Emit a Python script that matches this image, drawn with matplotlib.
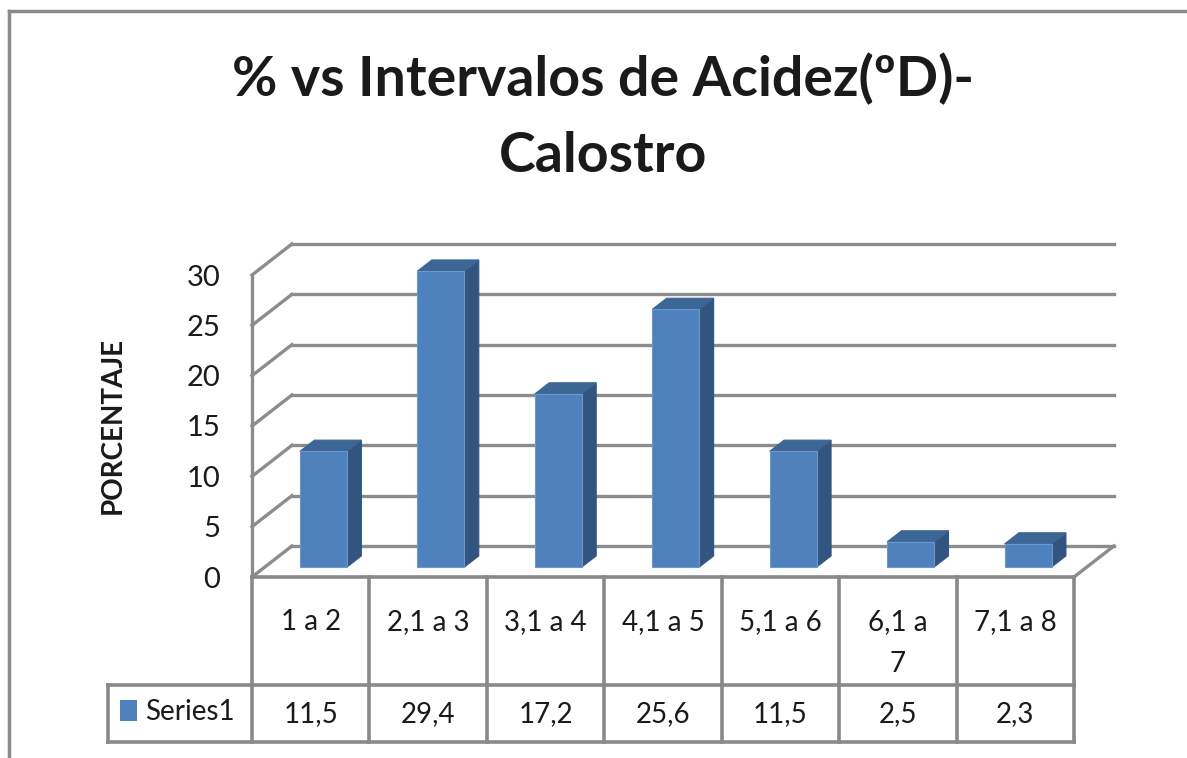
import matplotlib
matplotlib.use('Agg')
import matplotlib.pyplot as plt
import matplotlib.transforms as mtransforms
from matplotlib.patches import Polygon

plt.rcParams['font.family'] = ['Lato', 'DejaVu Sans']

categories = ['1 a 2', '2,1 a 3', '3,1 a 4', '4,1 a 5', '5,1 a 6', '6,1 a\n7', '7,1 a 8']
values = [11.5, 29.4, 17.2, 25.6, 11.5, 2.5, 2.3]
value_labels = ['11,5', '29,4', '17,2', '25,6', '11,5', '2,5', '2,3']
series_name = 'Series1'
yticks = [0, 5, 10, 15, 20, 25, 30]

W, H = 1187, 758
fig = plt.figure(figsize=(W / 100, H / 100), dpi=100)
fig.patch.set_facecolor('white')

# front plane of the plot area in pixels: x 252..1074, y 577 (0) .. 275 (30)
ax = fig.add_axes([252 / W, 1 - 577 / H, 822 / W, 302 / H])
ax.set_xlim(0, len(categories))
ax.set_ylim(0, 30)
ax.patch.set_visible(False)
for s in ax.spines.values():
    s.set_visible(False)
ax.set_xticks([])
ax.set_yticks(yticks)
ax.tick_params(axis='y', length=0, pad=23, labelsize=21, labelcolor='#1a1a1a')

# pixel transform (origin top-left) for layout items
px = mtransforms.Affine2D().scale(1 / W, -1 / H).translate(0, 1) + fig.transFigure
# x in category units, y in pixels
bx = mtransforms.blended_transform_factory(ax.transData, px)

DX, DY = 0.34, 3.08     # depth offset of the back wall (category, value units)
grid_c = '#8c8c8c'
n = len(categories)

# back wall gridlines and side wall lines
for t in yticks:
    ax.plot([DX, n + DX], [t + DY, t + DY], color=grid_c, lw=2.4, clip_on=False, zorder=1)
    ax.plot([0, DX], [t, t + DY], color=grid_c, lw=2.4, clip_on=False, zorder=1)
ax.plot([0, 0], [0, 30], color=grid_c, lw=2.4, clip_on=False, zorder=1)
# floor edges
ax.plot([n, n + DX], [0, DY], color=grid_c, lw=2.4, clip_on=False, zorder=1)

# 3D columns
d0, d1 = 0.32, 0.68
bw = 0.40
ox, oy = (d1 - d0) * DX, (d1 - d0) * DY
for i, v in enumerate(values):
    xl = i + 0.5 - bw / 2 + d0 * DX
    xr = xl + bw
    y0 = d0 * DY
    y1 = y0 + v
    front = [(xl, y0), (xr, y0), (xr, y1), (xl, y1)]
    side = [(xr, y0), (xr + ox, y0 + oy), (xr + ox, y1 + oy), (xr, y1)]
    top = [(xl, y1), (xr, y1), (xr + ox, y1 + oy), (xl + ox, y1 + oy)]
    ax.add_patch(Polygon(side, closed=True, fc='#32557f', ec='#32557f', lw=0.8, clip_on=False, zorder=3))
    ax.add_patch(Polygon(top, closed=True, fc='#3c6696', ec='#3c6696', lw=0.8, clip_on=False, zorder=3))
    ax.add_patch(Polygon(front, closed=True, fc='#4f81bd', ec='#6d97cc', lw=0.8, clip_on=False, zorder=4))

# data table under the plot
tbl_c = '#898989'
row_top, row_mid, row_bot = 577, 685, 742
leg_left = 108
for k in range(n + 1):
    ax.plot([k, k], [row_top, row_bot], color=tbl_c, lw=2.6, transform=bx, clip_on=False)
ax.plot([0, n], [row_top, row_top], color=tbl_c, lw=2.6, transform=bx, clip_on=False)
fig.add_artist(plt.Line2D([leg_left, 1074], [row_mid, row_mid], color=tbl_c, lw=2.6, transform=px))
fig.add_artist(plt.Line2D([leg_left, 1074], [row_bot, row_bot], color=tbl_c, lw=2.6, transform=px))
fig.add_artist(plt.Line2D([leg_left, leg_left], [row_mid, row_bot], color=tbl_c, lw=2.6, transform=px))

for k, (c, lab) in enumerate(zip(categories, value_labels)):
    ax.text(k + 0.5, 609, c, transform=bx, ha='center', va='top', fontsize=20,
            color='#1a1a1a', linespacing=1.75)
    ax.text(k + 0.5, 714, lab, transform=bx, ha='center', va='center', fontsize=20,
            color='#1a1a1a')

fig.add_artist(plt.Rectangle((120, 700), 17, 21, transform=px, fc='#4f81bd', ec='none'))
fig.text(145, 712, series_name, transform=px, ha='left', va='center', fontsize=20, color='#1a1a1a')

# axis title and chart title
fig.text(113, 425, 'PORCENTAJE', transform=px, rotation=90, ha='center', va='center',
         fontsize=20, fontweight='bold', color='#1a1a1a')
fig.text(603, 117, '% vs Intervalos de Acidez(ºD)-\nCalostro', transform=px, ha='center',
         va='center', fontsize=40, fontweight='bold', color='#1a1a1a', linespacing=1.62)

# outer chart border
fig.add_artist(plt.Line2D([9, W], [11, 11], color='#8a8a8a', lw=2.5, transform=px))
fig.add_artist(plt.Line2D([9, 9], [11, H], color='#8a8a8a', lw=2.5, transform=px))

fig.savefig('out.png', dpi=100)
